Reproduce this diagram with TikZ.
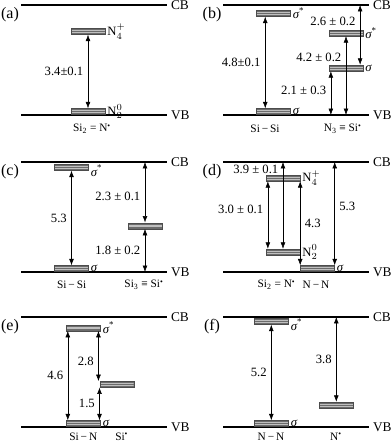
\documentclass[tikz,border=0pt]{standalone}
\usepackage{fontspec}
\setmainfont{Liberation Serif}
\usetikzlibrary{arrows.meta, positioning, calc}

\begin{document}
\begin{tikzpicture}[
    x=0.75pt, y=-0.75pt,
    font=\fontsize{9.5}{11}\selectfont,
    band/.style={line width=1.1pt},
    bandlab/.style={font=\fontsize{10}{12}\selectfont, inner sep=2.5pt},
    tag/.style={font=\fontsize{12}{14}\selectfont},
    site/.style={font=\fontsize{8.5}{10}\selectfont},
    levlab/.style={inner sep=1.5pt},
    level/.style={rectangle, draw=black!70, line width=0.3pt, fill=black!58, minimum width=25.5pt, minimum height=4.5pt, inner sep=0pt,
        path picture={
            \draw[black!25, line width=0.35pt] ($(path picture bounding box.south west)!.35!(path picture bounding box.north west)$) -- ($(path picture bounding box.south east)!.35!(path picture bounding box.north east)$);
            \draw[black!25, line width=0.35pt] ($(path picture bounding box.south west)!.65!(path picture bounding box.north west)$) -- ($(path picture bounding box.south east)!.65!(path picture bounding box.north east)$);
        }},
    trans/.style={thin, {Latex[length=4.8pt,width=3.6pt]}-{Latex[length=4.8pt,width=3.6pt]}}
]
\useasboundingbox (0,0) rectangle (392,443);

% Bands and panel tags
\foreach \p/\ox/\oy in {a/21/5, b/223/5, c/21/162, d/223/162, e/21/317, f/223/317} {
    \draw[band] (\ox,\oy) coordinate (\p-cb0) -- ++(146,0) node[right, bandlab] (\p-cb) {CB};
    \draw[band] (\ox,\oy+110) coordinate (\p-vb0) -- ++(146,0) node[right, bandlab] (\p-vb) {VB};
    \node[tag] (\p-tag) at (\ox-11,\oy+10) {(\p)};
}

% (a) Si2=N
\begin{scope}[shift={(21,5)}]
\node[level] (a-n4) at (67,26.5) {};
\node[level] (a-n2) at (67,106.5) {};
\node[levlab, right=0pt of a-n4] (a-n4l) {N$^{+}_{4}$};
\node[levlab, right=0pt of a-n2] (a-n2l) {N$^{0}_{2}$};
\draw[trans] (a-n4) -- node[left] {3.4±0.1} (a-n2);
\node[site] (a-name) at (71,124) {Si\textsubscript{2} = N\textsuperscript{•}};
\end{scope}

% (b) Si-Si and N3=Si
\begin{scope}[shift={(223,5)}]
\node[level] (b-ssu) at (50.5,8.5) {};
\node[level] (b-ssl) at (50.5,106.5) {};
\node[level] (b-nsu) at (123,28) {};
\node[level] (b-nsl) at (123,63) {};
\node[levlab, right=0pt of b-ssu] (b-ssul) {{\itshape σ}\textsuperscript{*}};
\node[levlab, right=0pt of b-ssl] (b-ssll) {{\itshape σ}};
\node[levlab, right=0pt of b-nsu] (b-nsul) {{\itshape σ}\textsuperscript{*}};
\node[levlab, right=0pt of b-nsl] (b-nsll) {{\itshape σ}};
\coordinate (b-p1) at ($(b-ssu.south west)!.26!(b-ssu.south east)$);
\coordinate (b-p2) at ($(b-nsl.north west)!.91!(b-nsl.north east)$);
\coordinate (b-p3) at ($(b-nsl.south west)!.06!(b-nsl.south east)$);
\draw[trans] (b-p1) -- node[left] {4.8±0.1} (b-p1 |- b-ssl.north);
\draw[trans] (b-p2 |- b-cb0) -- node[pos=.28, left] {2.6 ± 0.2} (b-p2);
\draw[trans] (b-nsu.south) -- node[pos=.27, left] {4.2 ± 0.2} (b-nsu.south |- b-vb0);
\draw[trans] (b-p3) -- node[pos=.44, left] {2.1 ± 0.3} (b-p3 |- b-vb0);
\node[site] (b-name1) at (42,124) {Si\,−\,Si};
\node[site] (b-name2) at (119.7,124) {N\textsubscript{3} ≡ Si\textsuperscript{•}};
\end{scope}

% (c) Si-Si and Si3=Si
\begin{scope}[shift={(21,162)}]
\node[level] (c-su) at (50.5,5.5) {};
\node[level] (c-sl) at (50.5,106.5) {};
\node[level] (c-m) at (124,63.7) {};
\node[levlab, right=0pt of c-su.south east] (c-sul) {{\itshape σ}\textsuperscript{*}};
\node[levlab, right=0pt of c-sl] (c-sll) {{\itshape σ}};
\draw[trans] (c-su) -- node[left] {5.3} (c-sl);
\draw[trans] (c-m.north |- c-cb0) -- node[pos=.57, left] {2.3 ± 0.1} (c-m.north);
\draw[trans] (c-m.south) -- node[left] {1.8 ± 0.2} (c-m.south |- c-vb0);
\node[site] (c-name1) at (50.7,123) {Si\,−\,Si};
\node[site] (c-name2) at (123,123) {Si\textsubscript{3} ≡ Si\textsuperscript{•}};
\end{scope}

% (d) Si2=N and N-N
\begin{scope}[shift={(223,162)}]
\node[level] (d-n4) at (60,16) {};
\node[level] (d-n2) at (60,90) {};
\node[level] (d-s) at (94.5,106.5) {};
\node[levlab, right=0pt of d-n4] (d-n4l) {N$^{+}_{4}$};
\node[levlab, right=0pt of d-n2] (d-n2l) {N$^{0}_{2}$};
\node[levlab, right=0pt of d-s] (d-sl) {{\itshape σ}};
\coordinate (d-p1) at ($(d-n4.south west)!.06!(d-n4.south east)$);
\draw[trans] (d-p1) -- node[pos=.42, left] {3.0 ± 0.1} (d-p1 |- d-n2.north);
\draw[trans] (d-n2.north |- d-cb0) -- node[pos=.09, left] {3.9 ± 0.1} (d-n2.north);
\draw[trans] (d-n4.south east) -- node[right] {4.3} (d-n4.south east |- d-s.north);
\draw[trans] (d-s.north east |- d-cb0) -- node[pos=.43, right] {5.3} (d-s.north east);
\node[site] (d-name1) at (53.5,123) {Si\textsubscript{2} = N\textsuperscript{•}};
\node[site] (d-name2) at (93,123) {N\,−\,N};
\end{scope}

% (e) Si-N and Si
\begin{scope}[shift={(21,317)}]
\node[level] (e-su) at (62.3,10.7) {};
\node[level] (e-sl) at (62.3,106.5) {};
\node[level] (e-m) at (95.7,67.3) {};
\node[levlab, right=0pt of e-su] (e-sul) {{\itshape σ}\textsuperscript{*}};
\node[levlab, right=0pt of e-sl] (e-sll) {{\itshape σ}};
\coordinate (e-p1) at ($(e-su.south west)!.05!(e-su.south east)$);
\coordinate (e-p2) at ($(e-su.south west)!.94!(e-su.south east)$);
\draw[trans] (e-p1) -- node[left] {4.6} (e-p1 |- e-sl.north);
\draw[trans] (e-p2) -- node[pos=.6, left] {2.8} (e-p2 |- e-m.north);
\draw[trans] (e-m.south west) -- node[left] {1.5} (e-m.south west |- e-sl.north);
\node[site] (e-name1) at (62.3,119.5) {Si\,−\,N};
\node[site] (e-name2) at (100.7,119.5) {Si\textsuperscript{•}};
\end{scope}

% (f) N-N and N
\begin{scope}[shift={(223,317)}]
\node[level] (f-su) at (48.3,4.5) {};
\node[level] (f-sl) at (48.3,106.5) {};
\node[level] (f-n) at (113.3,88) {};
\node[levlab, right=0pt of f-su.south east] (f-sul) {{\itshape σ}\textsuperscript{*}};
\node[levlab, right=0pt of f-sl] (f-sll) {{\itshape σ}};
\draw[trans] (f-su) -- node[left] {5.2} (f-sl);
\draw[trans] (f-n.north |- f-cb0) -- node[left] {3.8} (f-n.north);
\node[site] (f-name1) at (48,119.5) {N\,−\,N};
\node[site] (f-name2) at (113,119.5) {N\textsuperscript{•}};
\end{scope}

\end{tikzpicture}
\end{document}
